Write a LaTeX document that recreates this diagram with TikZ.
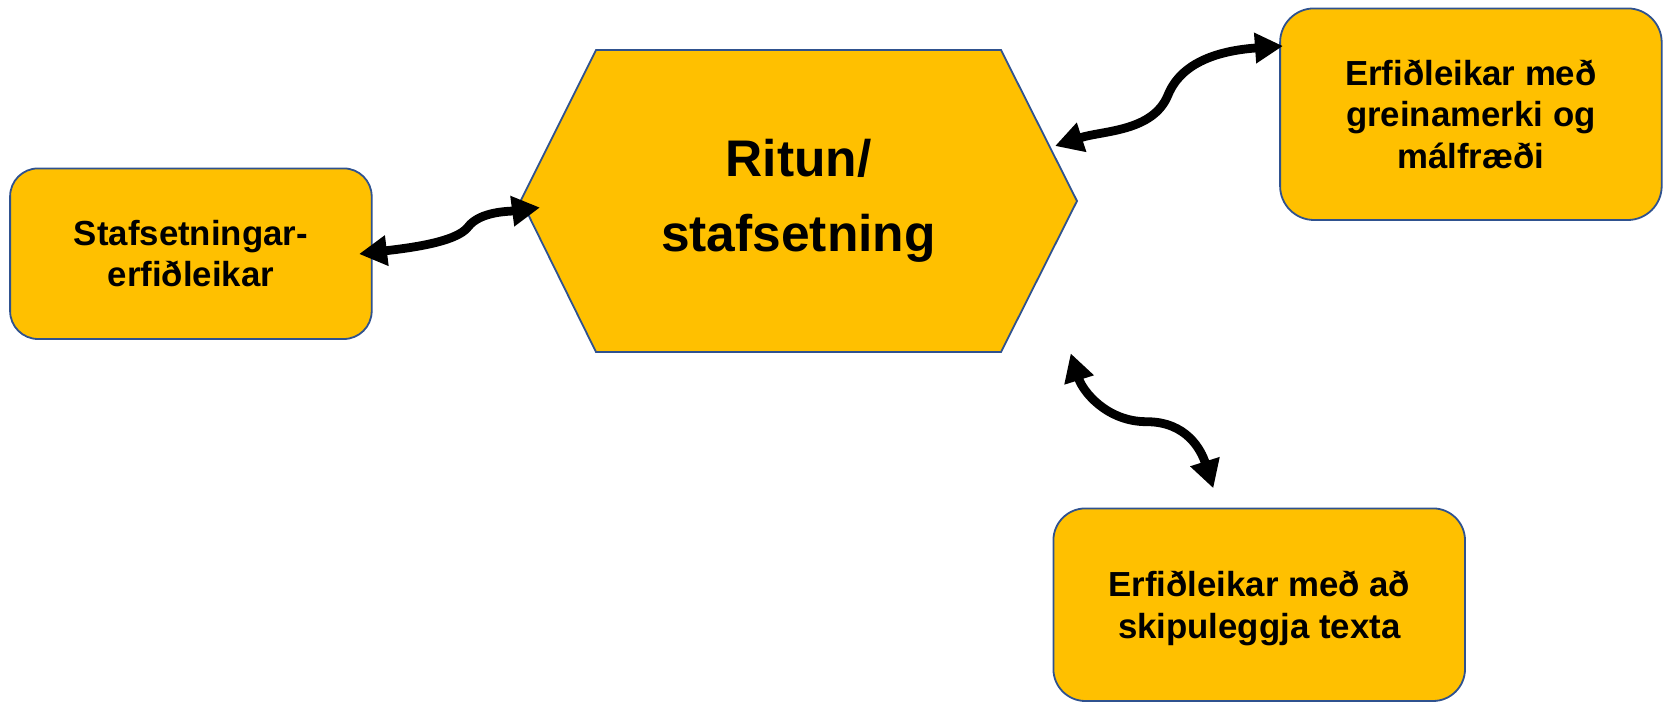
\documentclass[tikz,border=0pt]{standalone}
\usepackage{fontspec}
\setmainfont{Liberation Sans}
\usetikzlibrary{arrows.meta}
\definecolor{boxfill}{HTML}{FFC000}
\definecolor{boxline}{HTML}{2F528F}
\newcommand\diagsmall{\bfseries\fontsize{17.4pt}{20.75pt}\selectfont}
\newcommand\diagbig{\bfseries\fontsize{25.75pt}{37.5pt}\selectfont}
\begin{document}
\begin{tikzpicture}[x=0.5pt,y=-0.5pt,
  box/.style={draw=boxline, line width=0.9pt, fill=boxfill, align=center, font=\diagsmall, inner sep=0pt},
  hexbox/.style={draw=boxline, line width=0.9pt, fill=boxfill},
  dbl/.style={line width=4.4pt, {Triangle[length=14pt,width=14.5pt]}-{Triangle[length=14pt,width=14.5pt]}},
]
\useasboundingbox (0,0) rectangle (1666,702);

% central hexagon
\path[hexbox] (596,50) -- (1001,50) -- (1077,201) -- (1001,352) -- (596,352) -- (521,200) -- cycle;
\node[font=\diagbig, align=center, inner sep=0pt] (H) at (798.5,201) {Ritun/\\stafsetning};

% boxes
\node[box, minimum width=180.8pt, minimum height=85.3pt, rounded corners=14pt] (L) at (190.9,253.7) {Stafsetningar-\\erfiðleikar};
\node[box, minimum width=190.8pt, minimum height=105.8pt, rounded corners=17pt] (R) at (1470.9,114.2) {Erfiðleikar með\\greinamerki og\\málfræði};
\node[box, minimum width=205.8pt, minimum height=96.3pt, rounded corners=16pt, text depth=0pt] (B) at (1259.2,604.7) {Erfiðleikar með að\\skipuleggja texta};

% connector end points
\coordinate (a1s) at (359,254);
\coordinate (a1m) at (468,227);
\coordinate (a1e) at (540,207.5);
\coordinate (a2s) at (1055,146);
\coordinate (a2m) at (1168,95);
\coordinate (a2e) at (1283,46);
\coordinate (a3s) at (1070.7,353.3);
\coordinate (a3m) at (1146.7,421.7);
\coordinate (a3e) at (1213.3,488.3);

% connectors
\draw[dbl] (a1s) .. controls (403.5,248.6) and (456,243) .. (a1m) .. controls (480,211) and (510.3,211.4) .. (a1e);
\draw[dbl] (a2s) .. controls (1102.5,130.5) and (1153,132) .. (a2m) .. controls (1183,58) and (1228,50) .. (a2e);
\draw[dbl] (a3s) .. controls (1082.7,391.3) and (1106.7,421.7) .. (a3m) .. controls (1186.7,421.7) and (1201.3,450.3) .. (a3e);
\end{tikzpicture}
\end{document}
